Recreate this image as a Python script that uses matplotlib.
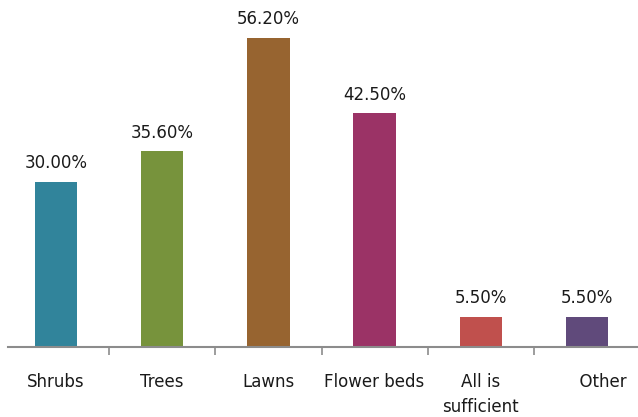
import matplotlib.pyplot as plt
import numpy as np

categories = ['Shrubs', 'Trees', 'Lawns', 'Flower beds', 'All is\nsufficient', '      Other']
values = [30.0, 35.6, 56.2, 42.5, 5.5, 5.5]
colors = ['#31849B', '#77933C', '#976430', '#9B3366', '#C0504D', '#604A7B']

fig = plt.figure(figsize=(6.38, 4.17), dpi=100)
ax = fig.add_axes([8 / 638, 1 - 347 / 417, 630 / 638, 347 / 417])

x = np.arange(len(categories))
ax.bar(x, values, width=0.4, color=colors)

for xi, v in zip(x, values):
    ax.annotate(f'{v:.2f}%', (xi, v), xytext=(0, 7), textcoords='offset points',
                ha='center', va='bottom', fontsize=12, color='#1a1a1a')

ax.set_xlim(-0.452, 5.48)
ax.set_ylim(0, 63.1)

for s in ['top', 'right', 'left']:
    ax.spines[s].set_visible(False)
ax.spines['bottom'].set_color('#8c8c8c')
ax.spines['bottom'].set_linewidth(1.5)

ax.set_yticks([])
ax.set_xticks(x)
ax.set_xticklabels(categories, fontsize=12, color='#1a1a1a', linespacing=1.5)
ax.tick_params(axis='x', which='major', length=0, pad=19)
ax.set_xticks(x[:-1] + 0.5, minor=True)
ax.tick_params(axis='x', which='minor', length=6, width=1.2, color='#8c8c8c')

plt.savefig('out.png', dpi=100)
